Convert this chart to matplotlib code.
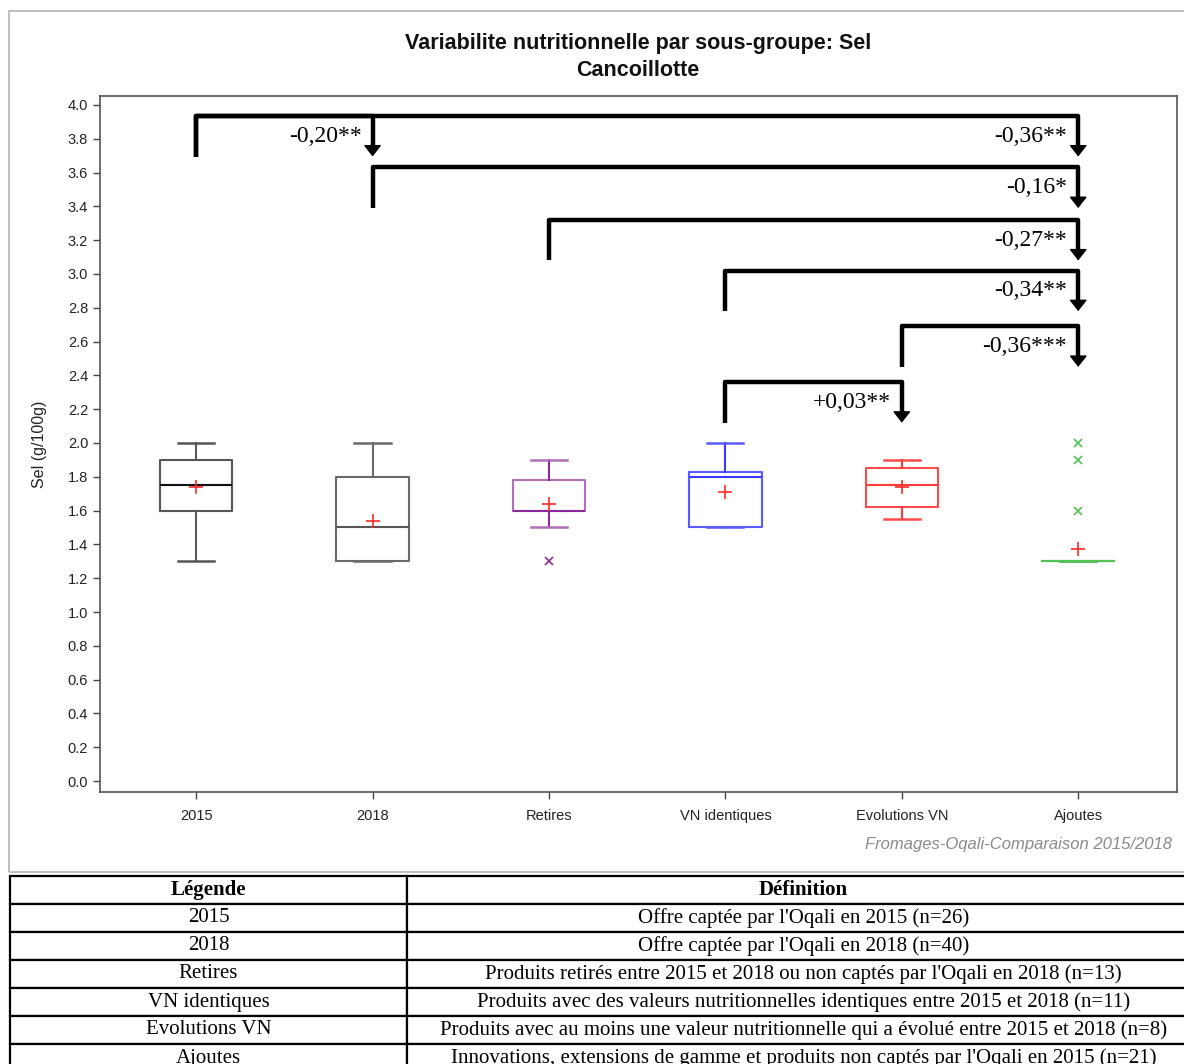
import matplotlib
matplotlib.use('Agg')
import matplotlib.pyplot as plt
from matplotlib.patches import Rectangle

plt.rcParams['font.family'] = ['Liberation Sans', 'DejaVu Sans']

# ---- data ----
categories = ['2015', '2018', 'Retires', 'VN identiques', 'Evolutions VN', 'Ajoutes']
whisk_low = [1.30, 1.30, 1.50, 1.50, 1.55, 1.30]
q1 = [1.60, 1.30, 1.60, 1.50, 1.62, 1.30]
medians = [1.75, 1.50, 1.60, 1.80, 1.75, 1.30]
q3 = [1.90, 1.80, 1.78, 1.83, 1.85, 1.30]
whisk_high = [2.00, 2.00, 1.90, 2.00, 1.90, 1.30]
means = [1.74, 1.54, 1.64, 1.71, 1.74, 1.37]
outliers = [[], [], [1.30], [], [], [2.00, 1.90, 1.60]]

# comparisons: from group, to group, label, bracket level (g/100g)
comp_from = ['2015', '2015', '2018', 'Retires', 'VN identiques', 'Evolutions VN', 'VN identiques']
comp_to = ['2018', 'Ajoutes', 'Ajoutes', 'Ajoutes', 'Ajoutes', 'Ajoutes', 'Evolutions VN']
comp_label = ['-0,20**', '-0,36**', '-0,16*', '-0,27**', '-0,34**', '-0,36***', '+0,03**']
comp_level = [3.935, 3.935, 3.63, 3.32, 3.02, 2.69, 2.36]

legend_names = categories
legend_defs = [
    "Offre captée par l'Oqali en 2015 (n=26)",
    "Offre captée par l'Oqali en 2018 (n=40)",
    "Produits retirés entre 2015 et 2018 ou non captés par l'Oqali en 2018 (n=13)",
    "Produits avec des valeurs nutritionnelles identiques entre 2015 et 2018 (n=11)",
    "Produits avec au moins une valeur nutritionnelle qui a évolué entre 2015 et 2018 (n=8)",
    "Innovations, extensions de gamme et produits non captés par l'Oqali en 2015 (n=21)",
]

box_colors = ['#555555', '#6a6a6a', '#b070b8', '#5a5aff', '#ff4a4a', '#55c055']
line_colors = ['#5a5a5a', '#6a6a6a', '#8a2a9a', '#3a3aff', '#ff3a3a', '#55c055']
median_colors = ['#111111', '#555555', '#8a2a9a', '#3a3aff', '#ff3a3a', '#55c055']

W, H = 1184, 1064
fig = plt.figure(figsize=(W / 100, H / 100), dpi=100)

# grey frame around chart panel
fig.patches.append(Rectangle((9 / W, (H - 872) / H), 1.2, (872 - 11) / H,
                             transform=fig.transFigure, fill=False,
                             ec='#b4b4b4', lw=1.2))

ax = fig.add_axes([100 / W, (H - 792) / H, 1077 / W, 696 / H])

stats = []
for i, c in enumerate(categories):
    stats.append(dict(label=c, whislo=whisk_low[i], q1=q1[i], med=medians[i],
                      q3=q3[i], whishi=whisk_high[i], mean=means[i],
                      fliers=outliers[i]))

pos = list(range(len(categories)))
bp = ax.bxp(stats, positions=pos, widths=0.41, capwidths=0.205,
            showmeans=True, patch_artist=False,
            meanprops=dict(marker='+', markersize=10, markeredgecolor='#ff2a2a',
                           markeredgewidth=1.2, linestyle='none'),
            flierprops=dict(marker='x', markersize=6, markeredgewidth=1.2))

for i in range(len(categories)):
    bp['boxes'][i].set_color(box_colors[i])
    bp['boxes'][i].set_linewidth(1.5)
    bp['medians'][i].set_color(median_colors[i])
    bp['medians'][i].set_linewidth(1.5)
    for w in bp['whiskers'][2 * i:2 * i + 2]:
        w.set_color(line_colors[i])
        w.set_linewidth(1.5)
    for cp in bp['caps'][2 * i:2 * i + 2]:
        cp.set_color(box_colors[i])
        cp.set_linewidth(1.8)
    bp['fliers'][i].set_markeredgecolor(line_colors[i])

# significance brackets
drop = 0.24
head = 0.05
for f, t, lab, lev in zip(comp_from, comp_to, comp_label, comp_level):
    xf = categories.index(f)
    xt = categories.index(t)
    ax.plot([xf, xf, xt, xt], [lev - drop, lev, lev, lev - drop + head],
            color='black', lw=3.2, solid_joinstyle='round',
            solid_capstyle='butt', zorder=5)
    ax.annotate('', xy=(xt, lev - drop), xytext=(xt, lev - drop + head + 0.02),
                arrowprops=dict(arrowstyle='-|>,head_length=0.7,head_width=0.55',
                                color='black', lw=1, shrinkA=0, shrinkB=0,
                                mutation_scale=10),
                zorder=5)
    ax.annotate(lab, xy=(xt, lev - 0.12), xytext=(-8, 0),
                textcoords='offset points', ha='right', va='center',
                fontsize=17, family='Liberation Serif', zorder=6)

ax.set_xlim(-0.545, 5.56)
ax.set_ylim(-0.065, 4.053)
ax.set_yticks([i * 0.2 for i in range(21)])
ax.set_yticklabels(['%.1f' % (i * 0.2) for i in range(21)])
ax.set_xticks(pos)
ax.set_xticklabels(categories)
ax.tick_params(axis='both', direction='out', length=5, width=1,
               color='#444444', labelsize=10.5, labelcolor='#222222')
ax.tick_params(axis='x', pad=7)
for s in ax.spines.values():
    s.set_color('#555555')
    s.set_linewidth(1.2)

ax.set_ylabel('Sel (g/100g)', fontsize=11.5, color='#222222')
ax.yaxis.set_label_coords(-0.049, 0.5)

fig.text(638 / W, 1 - 43 / H, 'Variabilite nutritionnelle par sous-groupe: Sel',
         ha='center', va='center', fontsize=15.5, fontweight='bold', color='#111111')
fig.text(638 / W, 1 - 71 / H, 'Cancoillotte',
         ha='center', va='center', fontsize=15.5, fontweight='bold', color='#111111')

fig.text(1172 / W, 1 - 845 / H, 'Fromages-Oqali-Comparaison 2015/2018',
         ha='right', va='center', fontsize=12, style='italic', color='#8a8a8a')

# legend table below the chart
tax = fig.add_axes([10 / W, (H - 1072) / H, 1190 / W, 196 / H])
tax.axis('off')
rows = [[n, d] for n, d in zip(legend_names, legend_defs)]
tbl = tax.table(cellText=rows, colLabels=['Légende', 'Définition'],
                cellLoc='center', colWidths=[397 / 1190, 793 / 1190],
                bbox=[0, 0, 1, 1])
tbl.auto_set_font_size(False)
tbl.set_fontsize(15)
for (r, c), cell in tbl.get_celld().items():
    cell.set_linewidth(1.6)
    cell.set_edgecolor('black')
    cell.get_text().set_fontfamily('Liberation Serif')
    if r == 0:
        cell.get_text().set_fontweight('bold')

fig.savefig('out.png', dpi=100)
